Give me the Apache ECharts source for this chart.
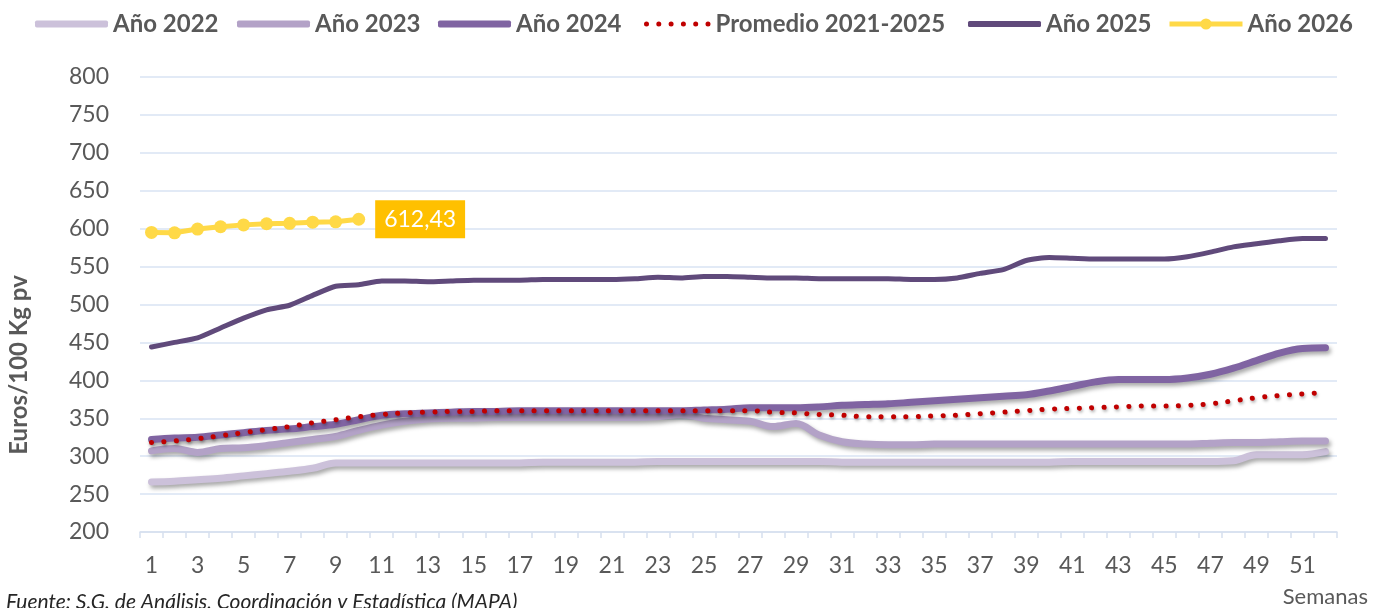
<!DOCTYPE html>
<html>
<head>
<meta charset="utf-8">
<script src="https://cdn.jsdelivr.net/npm/echarts@6/dist/echarts.min.js"></script>
<style>
html,body{margin:0;padding:0;background:#fff;}
#chart{width:1380px;height:608px;}
</style>
</head>
<body>
<div id="chart"></div>
<script>
const weeks = ['1','2','3','4','5','6','7','8','9','10','11','12','13','14','15','16','17','18','19','20','21','22','23','24','25','26','27','28','29','30','31','32','33','34','35','36','37','38','39','40','41','42','43','44','45','46','47','48','49','50','51','52'];

const ano2022 = [266,267,269,271,274,277,280,284,291,291,291,291,291,291,291,291,291,292,292,292,292,292,293,293,293,293,293,293,293,293,292,292,292,292,292,292,292,292,292,292,293,293,293,293,293,293,293,294,302,302,302,306];
const ano2023 = [307,310,305,310,311,314,318,322,326,334,341,346,349,350,350,351,351,351,351,351,351,351,352,355,350,348,346,339,343,328,319,316,315,315,316,316,316,316,316,316,316,316,316,316,316,316,317,318,318,319,320,320];
const ano2024 = [322,324,325,328,331,334,336,339,342,348,354,356,357,358,359,359,360,360,360,360,360,360,360,360,361,362,364,364,364,365,367,368,369,371,373,375,377,379,381,386,392,398,401,401,401,403,408,416,426,436,442,443];
const promedio = [318,320,323,327,331,335,339,344,348,352,355,357,358,359,359,360,360,360,360,360,360,360,360,360,360,360,360,358,357,355,354,352,352,352,353,354,356,358,360,362,363,364,365,366,366,367,369,373,377,380,382,384];
const ano2025 = [444,450,456,469,482,493,499,512,524,526,531,531,530,531,532,532,532,533,533,533,533,534,536,535,537,537,536,535,535,534,534,534,534,533,533,535,541,546,558,562,561,560,560,560,560,563,569,576,580,584,587,587];
const ano2026 = [595,594.5,599.5,602.5,605,606.5,607,608.5,609,612.43];

const names = ['Año 2022','Año 2023','Año 2024','Promedio 2021-2025','Año 2025','Año 2026'];
const FONT = 'Lato, "Open Sans", sans-serif';
const TXT = '#595959';
const shadow = {shadowColor:'rgba(0,0,0,0.35)', shadowBlur:4, shadowOffsetX:2, shadowOffsetY:3};

const d2026 = ano2026.map((v,i)=> i===ano2026.length-1 ? {
  value: v,
  label: {
    show: true, position: 'right', distance: 10,
    formatter: (p)=> String(p.value).replace('.', ','),
    backgroundColor: '#FFC000', color: '#ffffff',
    fontFamily: FONT, fontSize: 23, padding: [8, 9, 7, 9]
  }
} : v);

// legend icons
const dotsPath = 'path://M0,2.5A2.5,2.5,0,1,1,5,2.5A2.5,2.5,0,1,1,0,2.5Z' +
  'M12.3,2.5A2.5,2.5,0,1,1,17.3,2.5A2.5,2.5,0,1,1,12.3,2.5Z' +
  'M24.6,2.5A2.5,2.5,0,1,1,29.6,2.5A2.5,2.5,0,1,1,24.6,2.5Z' +
  'M36.9,2.5A2.5,2.5,0,1,1,41.9,2.5A2.5,2.5,0,1,1,36.9,2.5Z' +
  'M49.2,2.5A2.5,2.5,0,1,1,54.2,2.5A2.5,2.5,0,1,1,49.2,2.5Z' +
  'M61.5,2.5A2.5,2.5,0,1,1,66.5,2.5A2.5,2.5,0,1,1,61.5,2.5Z';
const legendLefts = [35, 237, 438, 644, 968, 1167];
const legendCfg = [
  { icon: 'roundRect', w: 73, h: 7 },
  { icon: 'roundRect', w: 73, h: 7 },
  { icon: 'roundRect', w: 73, h: 7 },
  { icon: dotsPath, w: 66.5, h: 5 },
  { icon: 'roundRect', w: 73, h: 6 },
  { icon: null, w: 73, h: 14 }
];
const legends = names.map((n,i)=>{
  const c = legendCfg[i];
  const item = c.icon ? { name: n, icon: c.icon } : { name: n };
  return {
    data: [item],
    left: legendLefts[i],
    top: 12,
    padding: 0,
    itemWidth: c.w,
    itemHeight: c.h,
    itemStyle: { shadowBlur: 0, shadowOffsetX: 0, shadowOffsetY: 0 },
    lineStyle: { width: 5, shadowBlur: 0, shadowOffsetX: 0, shadowOffsetY: 0 },
    textStyle: { fontFamily: FONT, fontSize: 24, fontWeight: 'bold', color: TXT },
    selectedMode: false
  };
});

const chart = echarts.init(document.getElementById('chart'), null, {renderer:'canvas'});
chart.setOption({
  animation: false,
  backgroundColor: '#ffffff',
  legend: legends,
  grid: { left: 140, right: 43, top: 77, bottom: 76, containLabel: false },
  xAxis: {
    type: 'category',
    data: weeks,
    boundaryGap: true,
    axisLine: { show: true, lineStyle: { color: '#D6DFEE', width: 1.5 } },
    axisTick: { show: true, interval: 0, alignWithLabel: false, length: 6, lineStyle: { color: '#D6DFEE', width: 1.5 } },
    axisLabel: { interval: 1, margin: 22, fontFamily: FONT, fontSize: 23, color: TXT },
    splitLine: { show: false }
  },
  yAxis: {
    type: 'value',
    min: 200, max: 800, interval: 50,
    axisLine: { show: false },
    axisTick: { show: false },
    axisLabel: { margin: 31, fontFamily: FONT, fontSize: 23, color: TXT },
    splitLine: { show: true, lineStyle: { color: '#D9E3F3', width: 1.5 } }
  },
  graphic: [
    { type: 'text', x: 19, y: 365, rotation: Math.PI/2,
      style: { text: 'Euros/100 Kg pv', fontFamily: FONT, fontSize: 24, fontWeight: 'bold', fill: TXT, textAlign: 'center', textVerticalAlign: 'middle' } },
    { type: 'text', right: 12, top: 586,
      style: { text: 'Semanas', fontFamily: FONT, fontSize: 22, fill: TXT } },
    { type: 'text', left: 6, top: 592,
      style: { text: 'Fuente: S.G. de Análisis, Coordinación y Estadística (MAPA)', fontFamily: FONT, fontSize: 21, fontStyle: 'italic', fill: '#262626' } }
  ],
  series: [
    { name: names[0], type: 'line', data: ano2022, smooth: 0.35, symbol: 'none', color: '#CCC1DA', z: 2,
      lineStyle: Object.assign({ width: 7, color: '#CCC1DA', cap: 'round' }, shadow) },
    { name: names[1], type: 'line', data: ano2023, smooth: 0.35, symbol: 'none', color: '#B3A2C7', z: 3,
      lineStyle: Object.assign({ width: 7, color: '#B3A2C7', cap: 'round' }, shadow) },
    { name: names[2], type: 'line', data: ano2024, smooth: 0.35, symbol: 'none', color: '#8064A2', z: 4,
      lineStyle: Object.assign({ width: 7, color: '#8064A2', cap: 'round' }, shadow) },
    { name: names[3], type: 'line', data: promedio, smooth: 0.35, symbol: 'none', color: '#C00000', z: 5,
      lineStyle: Object.assign({ width: 5, color: '#C00000', type: [0.1, 12.3], cap: 'round' }, {shadowColor:'rgba(0,0,0,0.3)', shadowBlur:3, shadowOffsetX:1, shadowOffsetY:2}) },
    { name: names[4], type: 'line', data: ano2025, smooth: 0.2, symbol: 'none', color: '#604A7B', z: 6,
      lineStyle: { width: 5, color: '#604A7B', cap: 'round' } },
    { name: names[5], type: 'line', data: d2026, smooth: false, symbol: 'circle', symbolSize: 13, showSymbol: true, color: '#FFD947', z: 7,
      itemStyle: { color: '#FFD947' },
      lineStyle: { width: 5, color: '#FFD947' } }
  ]
});
</script>
</body>
</html>
